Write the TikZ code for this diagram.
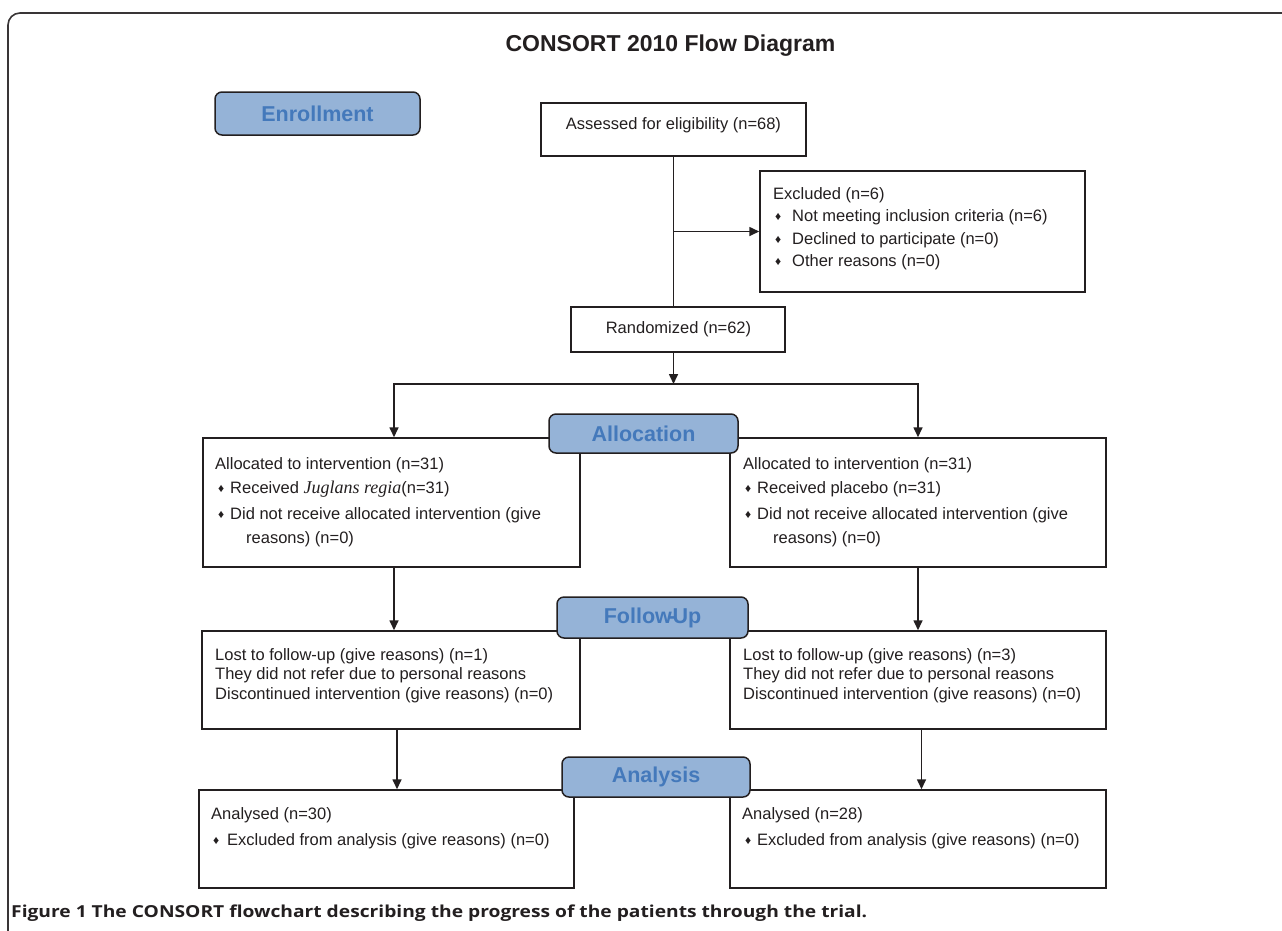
\documentclass[tikz,border=0pt]{standalone}
\usepackage{fontspec}
\usepackage{graphicx}
\setmainfont{Liberation Sans}
\newfontfamily\capfont{Open Sans}
\newfontfamily\serifface{Liberation Serif}
\usetikzlibrary{arrows.meta}
\definecolor{lab}{HTML}{95B3D7}
\definecolor{labtxt}{HTML}{4479BB}
\definecolor{ink}{HTML}{231F20}
\newcommand\dmd[1][11.5pt]{\makebox[#1][l]{\raisebox{1pt}{\fontsize{12}{12}\selectfont ♦}}}
\begin{document}
\begin{tikzpicture}[x=1pt,y=-1pt,
  box/.style={draw=ink, line width=1.5pt, rectangle, inner sep=0pt},
  stage/.style={draw=ink, line width=1.5pt, fill=lab, rounded corners=7pt, inner sep=0pt,
    font=\fontsize{21.5}{24}\selectfont\bfseries, text=labtxt},
  txt/.style={inner sep=0pt, anchor=base west, font=\fontsize{16.5}{20}\selectfont, text=ink},
  arr/.style={draw=ink, line width=1.6pt, -{Triangle[length=10pt,width=9pt]}},
  ln/.style={draw=ink, line width=1.6pt}]
\useasboundingbox (0,0) rectangle (1282,930);
\fill[white] (0,0) rectangle (1282,930);
\begin{scope}
\clip (0,0) rectangle (1282,930);
\draw[ink!90, line width=1.6pt, rounded corners=12pt] (1300,13) -- (8,13) -- (8,950);
\end{scope}

% title
\node[inner sep=0pt, anchor=base, font=\fontsize{23}{26}\selectfont\bfseries, text=ink] (title) at (670.5,51) {CONSORT 2010 Flow Diagram};

% boxes
\node[box, minimum width=265pt, minimum height=53pt] (ass) at (673.5,129.5) {};
\node[box, minimum width=325pt, minimum height=121pt] (exc) at (922.5,231.5) {};
\node[box, minimum width=214pt, minimum height=45pt] (ran) at (678,329.5) {};
\node[box, minimum width=377pt, minimum height=129pt] (allocL) at (391.5,502.5) {};
\node[box, minimum width=376pt, minimum height=129pt] (allocR) at (918,502.5) {};
\node[box, minimum width=378pt, minimum height=98pt] (followL) at (391,680) {};
\node[box, minimum width=376pt, minimum height=98pt] (followR) at (918,680) {};
\node[box, minimum width=375pt, minimum height=98pt] (anL) at (386.5,839) {};
\node[box, minimum width=376pt, minimum height=98pt] (anR) at (918,839) {};

% stage labels
\node[stage, minimum width=205pt, minimum height=43pt] (enr) at (317.5,113.5) {Enrollment};
\node[stage, minimum width=189pt, minimum height=39pt] (allocLab) at (643.5,433.5) {Allocation};
\node[stage, minimum width=191pt, minimum height=41pt] (followLab) at (652.5,617.5) {Follow\kern-3pt-\kern-3.5pt Up};
\node[stage, minimum width=188pt, minimum height=40pt] (anLab) at (656,777) {Analysis};

% texts
\node[txt, anchor=center] (asst) at (673.5,125) {Assessed for eligibility (n=68)};
\node[txt, anchor=center] (rant) at (678.5,329.5) {Randomized (n=62)};

\node[txt] (ex0) at (773,199) {Excluded (n=6)};
\node[txt] (ex1) at (775,221.5) {\dmd[17pt]Not meeting inclusion criteria (n=6)};
\node[txt] (ex2) at (775,244) {\dmd[17pt]Declined to participate (n=0)};
\node[txt] (ex3) at (775,266) {\dmd[17pt]Other reasons (n=0)};

\node[txt] (al0) at (215,469) {Allocated to intervention (n=31)};
\node[txt] (al1) at (218,493) {\dmd[12pt]Received {\serifface\itshape\fontsize{18}{20}\selectfont Juglans regia}(n=31)};
\node[txt] (al2) at (218,519) {\dmd[12pt]Did not receive allocated intervention (give};
\node[txt] (al3) at (246,543) {reasons) (n=0)};

\node[txt] (ar0) at (743,469) {Allocated to intervention (n=31)};
\node[txt] (ar1) at (745,493) {\dmd[12pt]Received placebo (n=31)};
\node[txt] (ar2) at (745,519) {\dmd[12pt]Did not receive allocated intervention (give};
\node[txt] (ar3) at (773,543) {reasons) (n=0)};

\node[txt] (fl0) at (215,660) {Lost to follow-up (give reasons) (n=1)};
\node[txt] (fl1) at (215,679.5) {They did not refer due to personal reasons};
\node[txt] (fl2) at (215,699) {Discontinued intervention (give reasons) (n=0)};

\node[txt] (fr0) at (743,660) {Lost to follow-up (give reasons) (n=3)};
\node[txt] (fr1) at (743,679.5) {They did not refer due to personal reasons};
\node[txt] (fr2) at (743,699) {Discontinued intervention (give reasons) (n=0)};

\node[txt] (nl0) at (211,819) {Analysed (n=30)};
\node[txt] (nl1) at (213,845) {\dmd[14pt]Excluded from analysis (give reasons) (n=0)};
\node[txt] (nr0) at (742,819) {Analysed (n=28)};
\node[txt] (nr1) at (745,845) {\dmd[12pt]Excluded from analysis (give reasons) (n=0)};

% caption
\node[inner sep=0pt, anchor=base west, font=\capfont\bfseries\fontsize{16.5}{20}\selectfont, text=ink] (cap) at (11,917) {\resizebox{856pt}{\height}{Figure 1 The CONSORT flowchart describing the progress of the patients through the trial.}};

% connectors
\draw[ln] (ass.south) -- (ass.south |- ran.north);
\coordinate (exj) at (ass.south |- exc.west);
\draw[arr] (exj) -- (exc.west);
\coordinate (split) at (673.5,384);
\draw[arr] (ass.south |- ran.south) -- (split);
\draw[arr] (split) -| ([xshift=2.5pt]allocL.north);
\draw[arr] (split) -| (allocR.north);
\draw[arr] ([xshift=2.5pt]allocL.south) -- ([xshift=2.5pt]allocL.south |- followL.north);
\draw[arr] (allocR.south) -- (allocR.south |- followR.north);
\draw[arr] ([xshift=6pt]followL.south) -- ([xshift=6pt]followL.south |- anL.north);
\draw[arr] ([xshift=3.5pt]followR.south) -- ([xshift=3.5pt]followR.south |- anR.north);
\end{tikzpicture}
\end{document}
